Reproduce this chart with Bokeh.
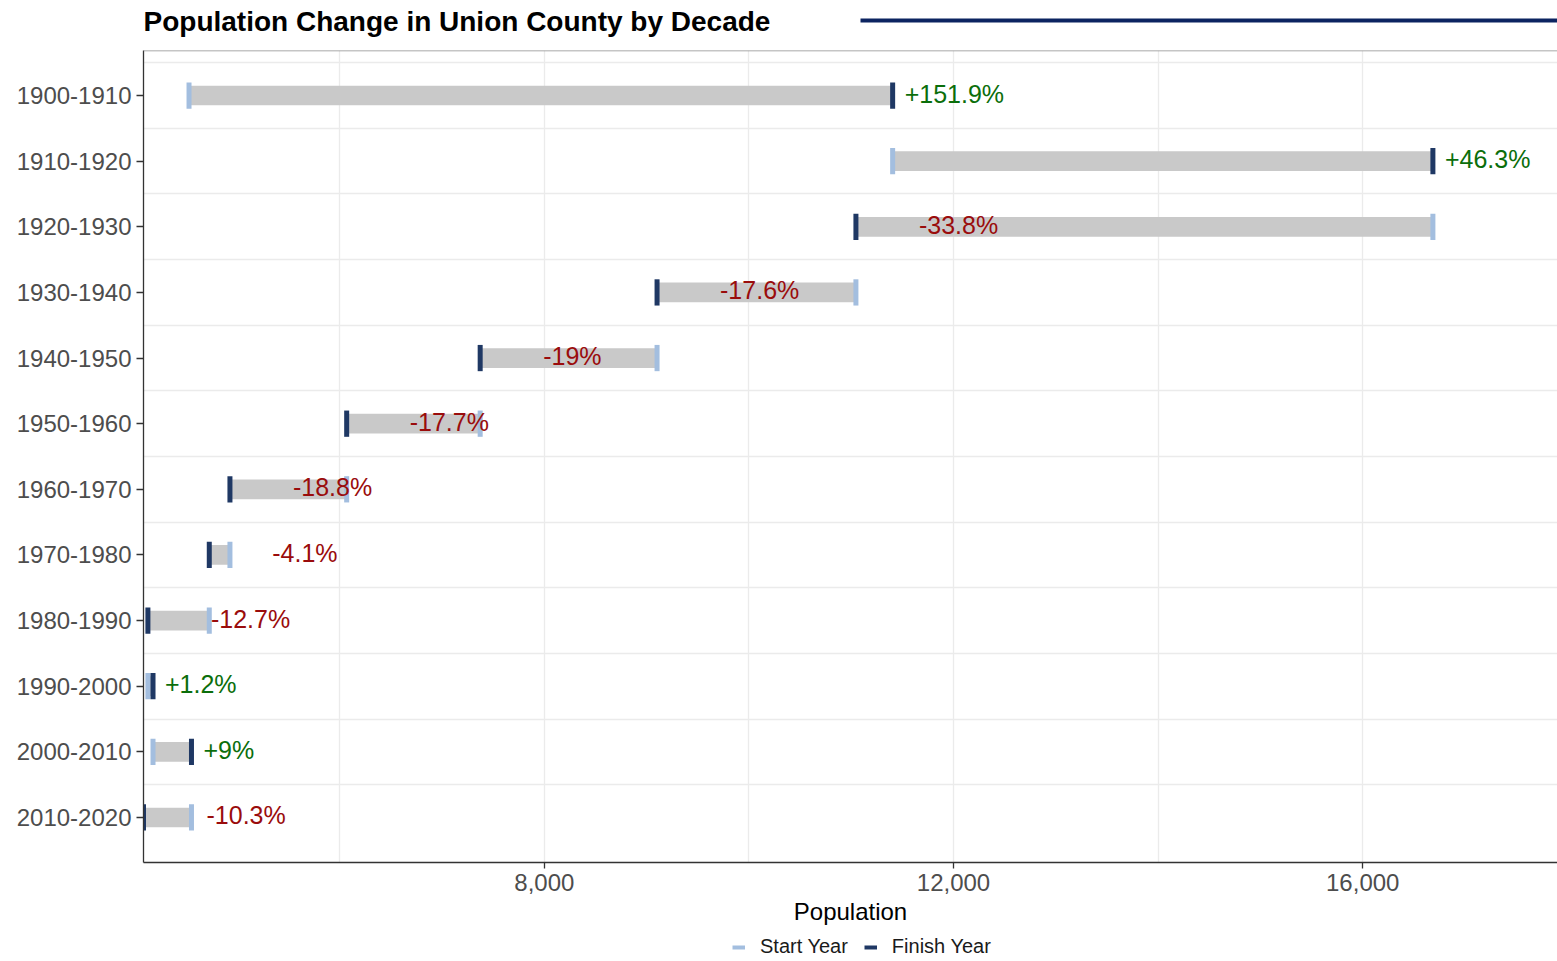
from bokeh.plotting import figure
from bokeh.layouts import column
from bokeh.models import (Range1d, FactorRange, FixedTicker, NumeralTickFormatter,
                          Span, Legend, LegendItem, ColumnDataSource)
from bokeh.embed import file_html
from bokeh.resources import INLINE
from bokeh.core.properties import value

# ---------------- data ----------------
decades = ["1900-1910", "1910-1920", "1920-1930", "1930-1940", "1940-1950", "1950-1960",
           "1960-1970", "1970-1980", "1980-1990", "1990-2000", "2000-2010", "2010-2020"]
start_pop = [4527, 11405, 16686, 11046, 9102, 7373, 6068, 4927, 4725, 4125, 4175, 4551]
finish_pop = [11405, 16686, 11046, 9102, 7373, 6068, 4927, 4725, 4125, 4175, 4551, 4082]
change_labels = ["+151.9%", "+46.3%", "-33.8%", "-17.6%", "-19%", "-17.7%",
                 "-18.8%", "-4.1%", "-12.7%", "+1.2%", "+9%", "-10.3%"]
x_major_ticks = [8000, 12000, 16000]
x_minor_ticks = [6000, 10000, 14000]
title_text = "Population Change in Union County by Decade"
x_axis_title = "Population"
legend_labels = ["Start Year", "Finish Year"]

# ---------------- layout / style ----------------
W, H = 1557, 961
LEFT = 143
FRAME_W = W - LEFT
HEAD_H = 48
FOOT_H = 28
MAIN_H = H - HEAD_H - FOOT_H
FONT = "Liberation Sans"
BAR_C = "#c9c9c9"
START_C = "#a3bedf"
FINISH_C = "#1f3864"
UP_C = "#0b6e0b"
DOWN_C = "#9a0c0c"
GRID_C = "#ebebeb"
AXIS_C = "#333333"
TICK_TXT = "#4d4d4d"
RULE_C = "#0c2461"
PAD = 0.186  # absolute padding on each side of the factor range


def blank_figure(height):
    f = figure(width=W, height=height, output_backend="svg", toolbar_location=None,
               x_axis_location=None, y_axis_location=None,
               x_range=Range1d(0, FRAME_W), y_range=Range1d(height, 0),
               min_border_left=LEFT, min_border_right=0, min_border_top=0,
               min_border_bottom=0, outline_line_color=None)
    f.grid.visible = False
    return f


# ---------------- header: title + rule ----------------
head = blank_figure(HEAD_H)
head.text(x=[0], y=[21], text=[title_text], text_font=value(FONT),
          text_font_size="28px", text_font_style="bold", text_color="#000000",
          text_baseline="middle", text_align="left")
head.segment(x0=[860 - LEFT], y0=[20], x1=[FRAME_W], y1=[20],
             line_color=RULE_C, line_width=4)

# ---------------- main chart ----------------
rising = [f > s for s, f in zip(start_pop, finish_pop)]
src = ColumnDataSource(dict(
    decade=decades, start=start_pop, finish=finish_pop, label=change_labels,
    label_color=[UP_C if r else DOWN_C for r in rising],
    label_offset=[12 if r else 63 for r in rising],
))

p = figure(width=W, height=MAIN_H, output_backend="svg", toolbar_location=None,
           x_range=Range1d(min(start_pop + finish_pop), 17904),
           y_range=FactorRange(factors=decades[::-1], range_padding=PAD,
                               range_padding_units="absolute"),
           min_border_left=LEFT, min_border_right=0, min_border_top=2,
           min_border_bottom=MAIN_H - 2 - 812, outline_line_color=None)

p.ygrid.visible = False
p.xgrid.grid_line_color = GRID_C
p.xgrid.grid_line_width = 1.3
p.xgrid.minor_grid_line_color = GRID_C
p.xgrid.minor_grid_line_width = 1.3
p.hspan(y=list(range(1, len(decades) + 1)), line_color=GRID_C, line_width=1.3)

p.add_layout(Span(location=len(decades) + PAD, dimension="width",
                  line_color="#8c8c8c", line_width=1.6))

p.hbar(y="decade", left="start", right="finish", height=0.3, fill_color=BAR_C,
       line_color=None, source=src)
p.rect(x="start", y="decade", width=5, width_units="screen", height=0.4,
       fill_color=START_C, line_color=None, source=src)
p.rect(x="finish", y="decade", width=5, width_units="screen", height=0.4,
       fill_color=FINISH_C, line_color=None, source=src)

p.text(x="finish", y="decade", text="label", text_color="label_color",
       x_offset="label_offset", y_offset=-2, text_font=value(FONT),
       text_font_size="25px", text_baseline="middle", text_align="left", source=src)

xa = p.xaxis[0]
xa.ticker = FixedTicker(ticks=x_major_ticks, minor_ticks=x_minor_ticks)
xa.formatter = NumeralTickFormatter(format="0,0")
xa.axis_line_color = AXIS_C
xa.axis_line_width = 1.3
xa.major_tick_line_color = AXIS_C
xa.major_tick_line_width = 1.3
xa.major_tick_out = 6
xa.major_tick_in = 0
xa.minor_tick_out = 0
xa.minor_tick_in = 0
xa.major_label_text_font = FONT
xa.major_label_text_font_size = "24px"
xa.major_label_text_color = TICK_TXT
xa.major_label_standoff = 5
xa.axis_label = x_axis_title
xa.axis_label_text_font = FONT
xa.axis_label_text_font_size = "24px"
xa.axis_label_text_font_style = "normal"
xa.axis_label_text_color = "#000000"
xa.axis_label_standoff = 4

ya = p.yaxis[0]
ya.axis_line_color = AXIS_C
ya.axis_line_width = 1.3
ya.major_tick_line_color = AXIS_C
ya.major_tick_line_width = 1.3
ya.major_tick_out = 7
ya.major_tick_in = 0
ya.major_label_text_font = FONT
ya.major_label_text_font_size = "24px"
ya.major_label_text_color = TICK_TXT
ya.major_label_standoff = 5

# ---------------- footer: legend ----------------
foot = blank_figure(FOOT_H)
# legend proxies: a single mark placed outside the visible footer area
proxy = dict(x0=[-20], y0=[-20], x1=[-10], y1=[-20])
leg_start = foot.segment(x0="x0", y0="y0", x1="x1", y1="y1", line_color=START_C,
                         line_width=4, source=ColumnDataSource(proxy))
leg_finish = foot.segment(x0="x0", y0="y0", x1="x1", y1="y1", line_color=FINISH_C,
                          line_width=4, source=ColumnDataSource(proxy))
legend = Legend(items=[LegendItem(label=legend_labels[0], renderers=[leg_start]),
                       LegendItem(label=legend_labels[1], renderers=[leg_finish])],
                orientation="horizontal", location=(589, 3),
                border_line_color=None, background_fill_alpha=0,
                label_text_font=FONT, label_text_font_size="20px",
                label_text_color="#1a1a1a", glyph_width=13, glyph_height=22,
                label_height=22, label_standoff=15, spacing=16, padding=0, margin=0)
foot.add_layout(legend)

layout = column(head, p, foot, spacing=0)
open("out.html", "w").write(file_html(layout, INLINE))
